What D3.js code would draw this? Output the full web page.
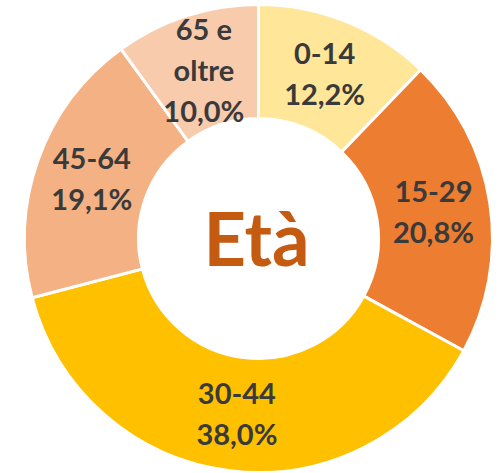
<!DOCTYPE html>
<html>
<head>
<meta charset="utf-8">
<script src="https://cdn.jsdelivr.net/npm/d3@7"></script>
<style>
	html, body { margin: 0; padding: 0; background: #fff; }
</style>
</head>
<body>
<div id="chart"></div>
<script>
let categories = ["0-14", "15-29", "30-44", "45-64", "65 e oltre"];
let labelLines = [["0-14"], ["15-29"], ["30-44"], ["45-64"], ["65 e", "oltre"]];
let values = [12.2, 20.8, 38.0, 19.1, 10.0];
let colors = ["#FFE699", "#ED7D31", "#FFC000", "#F4B183", "#F8CBAD"];
let centerTitle = "Età";

let width = 499;
let height = 473;
let center = { x: 258.5, y: 238.5 };
let outer = 234;
let inner = 120;

let data = categories.map((c, i) => ({ name: c, lines: labelLines[i], value: values[i] }));

let svg = d3
	.select("#chart")
	.append("svg")
	.attr("width", width)
	.attr("height", height);

let g = svg.append("g").attr("transform", `translate(${center.x},${center.y})`);

let pie = d3
	.pie()
	.sort(null)
	.value((d) => d.value);

let arc = d3.arc().innerRadius(inner).outerRadius(outer);
let labelArc = d3.arc().innerRadius(177).outerRadius(177);

let color = d3.scaleOrdinal().domain(categories).range(colors);

let fmt = (v) => v.toFixed(1).replace(".", ",") + "%";

let arcs = pie(data);

g.selectAll("path")
	.data(arcs)
	.join("path")
	.attr("d", arc)
	.attr("fill", (d) => color(d.data.name))
	.attr("stroke", "#fff")
	.attr("stroke-width", 3);

// labels: name lines + percentage
let lineH = 41;
g.selectAll("text.lbl")
	.data(arcs)
	.join("text")
	.attr("class", "lbl")
	.attr("transform", (d) => `translate(${labelArc.centroid(d)})`)
	.attr("text-anchor", "middle")
	.attr("font-family", "Lato, 'Open Sans', sans-serif")
	.attr("font-weight", "bold")
	.attr("font-size", 29)
	.attr("fill", "#3A3A3A")
	.each(function (d) {
		let lines = d.data.lines.concat([fmt(d.data.value)]);
		let top = -((lines.length - 1) * lineH) / 2;
		d3.select(this)
			.selectAll("tspan")
			.data(lines)
			.join("tspan")
			.attr("x", 0)
			.attr("y", (l, i) => top + i * lineH)
			.attr("dy", "0.36em")
			.text((l) => l);
	});

g.append("text")
	.attr("x", -2)
	.attr("y", 27)
	.attr("text-anchor", "middle")
	.attr("font-family", "Lato, 'Open Sans', sans-serif")
	.attr("font-weight", "bold")
	.attr("font-size", 74)
	.attr("fill", "#C55A11")
	.text(centerTitle);
</script>
</body>
</html>
